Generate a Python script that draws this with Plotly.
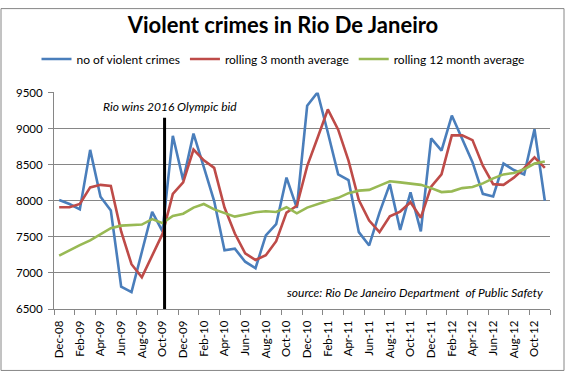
import plotly.graph_objects as go

months = ["Dec-08","Jan-09","Feb-09","Mar-09","Apr-09","May-09","Jun-09","Jul-09","Aug-09","Sep-09","Oct-09","Nov-09",
          "Dec-09","Jan-10","Feb-10","Mar-10","Apr-10","May-10","Jun-10","Jul-10","Aug-10","Sep-10","Oct-10","Nov-10",
          "Dec-10","Jan-11","Feb-11","Mar-11","Apr-11","May-11","Jun-11","Jul-11","Aug-11","Sep-11","Oct-11","Nov-11",
          "Dec-11","Jan-12","Feb-12","Mar-12","Apr-12","May-12","Jun-12","Jul-12","Aug-12","Sep-12","Oct-12","Nov-12"]

violent_crimes = [8010, 7955, 7880, 8705, 8055, 7865, 6810, 6735, 7290, 7845, 7575, 8900,
                  8285, 8930, 8465, 7995, 7315, 7335, 7155, 7065, 7520, 7675, 8320, 7900,
                  9315, 9500, 8945, 8365, 8285, 7565, 7380, 7835, 8230, 7595, 8115, 7575,
                  8865, 8695, 9180, 8850, 8535, 8095, 8060, 8515, 8425, 8365, 8990, 8000]

rolling_3 = [7910, 7910, 7955, 8185, 8220, 8205, 7575, 7120, 6940, 7245, 7540, 8095,
             8255, 8710, 8560, 8455, 7905, 7545, 7270, 7180, 7245, 7440, 7835, 7930,
             8480, 8870, 9265, 8985, 8555, 8010, 7725, 7565, 7785, 7850, 7980, 7765,
             8195, 8365, 8905, 8905, 8840, 8485, 8230, 8220, 8320, 8450, 8600, 8455]

rolling_12 = [7240, 7315, 7385, 7450, 7540, 7620, 7655, 7660, 7670, 7745, 7690, 7790,
              7820, 7905, 7955, 7880, 7835, 7780, 7810, 7840, 7855, 7845, 7910, 7825,
              7905, 7955, 8000, 8040, 8105, 8140, 8150, 8210, 8270, 8255, 8235, 8220,
              8175, 8120, 8130, 8175, 8190, 8240, 8310, 8365, 8385, 8435, 8515, 8545]

series_names = ["no of violent crimes", "rolling 3 month average", "rolling 12 month average"]
series_colors = ["#4A7EBB", "#BE4B48", "#98B954"]

y_ticks = [6500, 7000, 7500, 8000, 8500, 9000, 9500]
event_label = "Rio wins 2016 Olympic bid"
event_index = 10.2   # Oct-09 (position of the marker line)
event_top = 9150
source_text = "source: Rio De Janeiro Department  of Public Safety"

x = list(range(len(months)))

fig = go.Figure()
for name, vals, col in zip(series_names, [violent_crimes, rolling_3, rolling_12], series_colors):
    fig.add_trace(go.Scatter(x=x, y=vals, mode="lines", name=name,
                             line=dict(color=col, width=2.6)))

W, H = 566, 375
ml, mr, mt, mb = 54, 16, 87, 66
pw, ph = W - ml - mr, H - mt - mb

def px_x(p):
    return (p - ml) / pw

def px_y(p):
    return (H - mb - p) / ph

# vertical event line
fig.add_shape(type="line", xref="x", yref="y", x0=event_index, x1=event_index,
              y0=y_ticks[0], y1=event_top, line=dict(color="black", width=3))
# chart border
fig.add_shape(type="rect", xref="paper", yref="paper",
              x0=px_x(1), x1=px_x(564), y0=px_y(372), y1=px_y(1),
              line=dict(color="#868686", width=1), layer="below")

fig.add_annotation(text=event_label, xref="paper", yref="paper",
                   x=px_x(101), y=px_y(101), xanchor="left", yanchor="middle",
                   showarrow=False, font=dict(family="Lato", size=12, color="black", style="italic"))
fig.add_annotation(text=source_text, xref="paper", yref="paper",
                   x=px_x(545), y=px_y(292), xanchor="right", yanchor="middle",
                   showarrow=False, font=dict(family="Lato", size=12, color="black", style="italic"))

fig.update_layout(
    width=W, height=H,
    margin=dict(l=ml, r=mr, t=mt, b=mb),
    paper_bgcolor="white", plot_bgcolor="white",
    font=dict(family="Lato", size=11, color="black"),
    title=dict(text="<b>Violent crimes in Rio De Janeiro</b>", x=0.5, xanchor="center",
               y=1 - 25 / H, yanchor="middle", xref="container",
               font=dict(family="Lato", size=22, color="black")),
    showlegend=True,
    legend=dict(orientation="h", x=0.5, xanchor="center", xref="container",
                y=1 - 59 / H, yref="container", yanchor="middle",
                font=dict(family="Lato", size=12), itemwidth=30, tracegroupgap=0,
                bgcolor="rgba(0,0,0,0)"),
    xaxis=dict(range=[-0.5, len(months) - 0.5], showgrid=False, zeroline=False,
               showline=True, linecolor="#868686", linewidth=1,
               tickmode="array", tickvals=x[::2], ticktext=months[::2],
               ticks="", tickangle=-90, tickfont=dict(family="Lato", size=11.5),
               ticklabelstandoff=6,
               minor=dict(tickmode="array", tickvals=[i - 0.5 for i in range(0, len(months) + 1, 2)],
                          ticks="outside", ticklen=5, tickcolor="#868686", showgrid=False)),
    yaxis=dict(range=[y_ticks[0], y_ticks[-1]], tickmode="array", tickvals=y_ticks,
               showgrid=True, gridcolor="#868686", gridwidth=1, zeroline=False,
               showline=True, linecolor="#868686", linewidth=1,
               ticks="outside", ticklen=5, tickcolor="#868686",
               ticklabelstandoff=3,
               tickfont=dict(family="Lato", size=11.5)),
)

fig.write_html("out.html", config={"displayModeBar": False},
               post_script="document.body.style.margin='0';document.body.style.overflow='hidden';")
